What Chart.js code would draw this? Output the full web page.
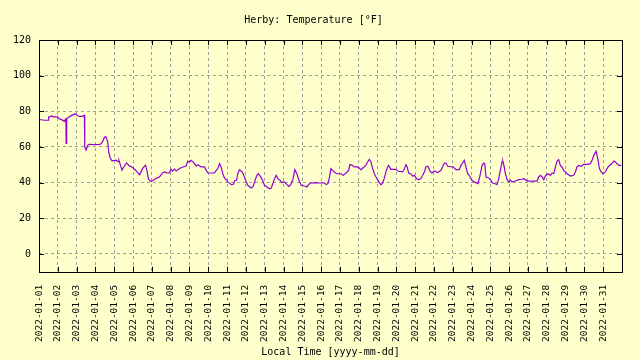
<!DOCTYPE html>
<html>
<head>
<meta charset="utf-8">
<title>Herby: Temperature</title>
<script src="https://cdn.jsdelivr.net/npm/chart.js@4/dist/chart.umd.min.js"></script>
<style>
	html, body { margin: 0; padding: 0; background: #ffffcc; }
	#chart { display: block; }
</style>
</head>
<body>
<canvas id="chart" width="640" height="360"></canvas>
<script>
const StartDate = Date.UTC(2022, 0, 1);

	// time in days since 2022-01-01 00:00 local, temperature in °F
const days = [
	0.00, 0.30, 0.50, 0.51, 0.70, 0.75, 0.99, 1.05, 1.22, 1.35, 1.40, 1.43, 1.44, 1.46, 1.48, 1.52,
	1.60, 1.79, 1.93, 2.05, 2.15, 2.30, 2.41, 2.43, 2.50, 2.59, 2.68, 2.90, 3.21, 3.30, 3.39, 3.48,
	3.56, 3.65, 3.71, 3.78, 3.88, 4.10, 4.20, 4.25, 4.31, 4.41, 4.55, 4.65, 4.80, 4.98, 5.16, 5.34,
	5.51, 5.66, 5.74, 5.82, 5.96, 6.05, 6.22, 6.40, 6.58, 6.70, 6.80, 6.93, 7.02, 7.10, 7.20, 7.29,
	7.50, 7.65, 7.82, 7.91, 8.00, 8.09, 8.20, 8.27, 8.35, 8.45, 8.62, 8.80, 8.89, 8.98, 9.33, 9.42,
	9.50, 9.60, 9.68, 9.77, 9.86, 10.04, 10.22, 10.35, 10.39, 10.50, 10.57, 10.66, 10.80, 10.89, 10.98, 11.10,
	11.28, 11.37, 11.46, 11.58, 11.67, 11.81, 11.90, 11.99, 12.11, 12.26, 12.35, 12.43, 12.52, 12.61, 12.70, 12.82,
	12.91, 13.05, 13.18, 13.28, 13.36, 13.50, 13.60, 13.71, 13.82, 13.94, 14.12, 14.25, 14.35, 14.47, 14.70, 14.91,
	15.18, 15.27, 15.36, 15.45, 15.52, 15.60, 15.70, 15.82, 16.05, 16.18, 16.32, 16.46, 16.53, 16.65, 16.76, 16.95,
	17.05, 17.12, 17.25, 17.38, 17.47, 17.56, 17.65, 17.74, 17.83, 17.92, 18.00, 18.09, 18.18, 18.26, 18.35, 18.45,
	18.53, 18.59, 18.71, 18.98, 19.07, 19.33, 19.42, 19.51, 19.58, 19.65, 19.76, 19.87, 19.96, 20.08, 20.18, 20.30,
	20.40, 20.49, 20.57, 20.68, 20.79, 20.89, 21.02, 21.20, 21.37, 21.46, 21.55, 21.64, 21.73, 22.03, 22.17, 22.35,
	22.44, 22.52, 22.61, 22.70, 22.79, 22.88, 22.97, 23.06, 23.23, 23.34, 23.41, 23.47, 23.56, 23.65, 23.70, 23.77,
	23.88, 24.00, 24.12, 24.25, 24.35, 24.44, 24.53, 24.62, 24.66, 24.73, 24.80, 24.89, 24.98, 25.07, 25.15, 25.33,
	25.50, 25.68, 25.77, 25.86, 25.95, 26.48, 26.57, 26.66, 26.75, 26.84, 26.93, 27.07, 27.20, 27.28, 27.37, 27.46,
	27.55, 27.63, 27.72, 27.81, 27.90, 27.99, 28.08, 28.26, 28.43, 28.52, 28.61, 28.70, 28.84, 28.96, 29.23, 29.32,
	29.41, 29.50, 29.62, 29.73, 29.80, 29.89, 29.98, 30.12, 30.20, 30.29, 30.47, 30.56, 30.65, 30.74, 30.83, 30.97
];
const tempF = [
	75.4, 75.0, 75.0, 76.9, 77.4, 76.9, 76.9, 76.0, 75.2, 74.4, 75.5, 74.0, 62.0, 68.0, 76.0, 76.3,
	76.9, 78.0, 78.7, 77.5, 77.2, 77.2, 77.8, 60.0, 58.3, 61.0, 61.5, 61.3, 61.5, 61.8, 63.3, 65.5,
	65.6, 63.0, 56.9, 54.0, 52.2, 52.6, 51.8, 52.5, 50.4, 47.0, 49.5, 51.1, 49.4, 48.5, 46.7, 44.4,
	48.0, 49.8, 46.7, 42.0, 40.6, 41.2, 42.4, 43.2, 45.6, 46.0, 45.4, 45.4, 47.6, 46.5, 47.6, 46.5,
	48.1, 48.8, 49.3, 52.1, 51.5, 52.5, 51.5, 50.7, 49.3, 50.0, 48.8, 48.8, 46.9, 45.4, 45.4, 46.9,
	47.8, 50.7, 48.8, 45.0, 42.6, 40.4, 38.9, 39.2, 40.9, 41.3, 45.0, 47.3, 46.0, 44.1, 41.3, 38.5,
	37.0, 37.6, 40.4, 44.1, 45.0, 42.8, 40.9, 38.5, 37.6, 36.6, 37.0, 39.4, 42.2, 44.1, 42.2, 41.3,
	40.0, 40.4, 38.9, 37.9, 38.5, 41.7, 47.3, 45.0, 41.3, 38.5, 38.1, 37.6, 39.1, 39.8, 40.0, 39.8,
	39.8, 38.9, 39.4, 43.2, 47.9, 47.0, 46.0, 45.0, 45.0, 44.1, 45.4, 46.9, 50.1, 49.7, 48.8, 48.8,
	47.9, 47.3, 48.5, 49.7, 51.6, 53.1, 51.6, 47.9, 45.0, 43.2, 41.7, 40.0, 38.9, 39.4, 42.2, 46.0,
	48.8, 49.7, 47.5, 47.5, 46.5, 46.0, 47.5, 50.1, 48.8, 45.4, 45.0, 43.6, 44.1, 42.2, 41.7, 42.2,
	44.1, 46.0, 48.8, 49.2, 46.5, 45.4, 46.5, 45.6, 46.9, 48.8, 51.0, 51.0, 49.2, 48.8, 47.3, 47.3,
	49.7, 51.0, 52.5, 48.8, 45.0, 44.1, 42.2, 40.9, 40.0, 39.4, 42.2, 45.0, 49.7, 51.0, 50.7, 43.2,
	42.8, 41.7, 39.8, 39.4, 38.9, 42.0, 46.9, 51.6, 52.1, 49.2, 45.0, 41.7, 40.4, 41.3, 40.4, 40.9,
	41.7, 41.9, 42.2, 41.7, 40.9, 40.9, 43.2, 44.1, 43.2, 41.7, 43.9, 45.0, 44.1, 45.4, 45.0, 48.8,
	52.1, 52.9, 49.7, 48.8, 46.9, 46.0, 45.0, 43.7, 44.1, 46.0, 48.8, 49.7, 49.2, 50.3, 50.3, 50.7,
	52.5, 55.3, 57.6, 52.5, 47.9, 46.0, 45.0, 46.0, 47.9, 49.2, 50.7, 52.1, 51.6, 50.7, 49.7, 49.7
];

	// one tick per day, label as yyyy-mm-dd
const xTickDays = [];
const xTickLabels = [];
for (let d = 0; d <= 30; d++)
{
	xTickDays.push(d);
	xTickLabels.push(new Date(StartDate + d * 86400000).toISOString().slice(0, 10));
}
const yTicks = [ 0, 20, 40, 60, 80, 100, 120 ];

	/// gnuplot-like box around the plot with inward tick marks
const frame = {
	id: "frame",
	afterDraw(chart)
	{
		const { ctx, chartArea: { top, bottom, left, right } } = chart;
		const x = chart.scales.x, y = chart.scales.y;
		const len = 5;
		ctx.save();
		ctx.strokeStyle = "#000";
		ctx.lineWidth = 1;
		ctx.beginPath();
		for (const d of xTickDays)
		{
			const px = Math.round(x.getPixelForValue(d)) + 0.5;
			ctx.moveTo(px, bottom);
			ctx.lineTo(px, bottom - len);
			ctx.moveTo(px, top);
			ctx.lineTo(px, top + len);
		}
		for (const v of yTicks)
		{
			const py = Math.round(y.getPixelForValue(v)) + 0.5;
			ctx.moveTo(left, py);
			ctx.lineTo(left + len, py);
			ctx.moveTo(right, py);
			ctx.lineTo(right - len, py);
		}
		ctx.stroke();
		ctx.strokeRect(Math.round(left) + 0.5, Math.round(top) + 0.5,
				Math.round(right - left), Math.round(bottom - top));
		ctx.restore();
	}
};

Chart.defaults.font.family = "'DejaVu Sans Mono', monospace";
Chart.defaults.font.size = 10;
Chart.defaults.color = "#000";

const points = days.map((d, i) => ({ x: d, y: tempF[i] }));

new Chart(document.getElementById("chart"), {
	type: "line",
	data: {
		datasets: [{
			label: "Temperature",
			data: points,
			borderColor: "#9400d3",
			borderWidth: 1.2,
			pointRadius: 0,
			tension: 0,
			fill: false,
		}]
	},
	options: {
		responsive: false,
		animation: false,
		events: [],
		layout: {
			padding: { left: 5, right: 18, top: 0, bottom: 0 }
		},
		plugins: {
			legend: { display: false },
			tooltip: { enabled: false },
			title: {
				display: true,
				text: "Herby: Temperature [°F]",
				font: { weight: "normal", size: 10 },
				padding: { top: 14, bottom: 14 },
			},
		},
		scales: {
			x: {
				type: "linear",
				min: 0,
				max: 31,
				afterBuildTicks: scale =>
				{
					scale.ticks = xTickDays.map(v => ({ value: v }));
				},
				ticks: {
					autoSkip: false,
					minRotation: 90,
					maxRotation: 90,
					padding: 13,
					font: { size: 9.5 },
					callback: (value) => xTickLabels[xTickDays.indexOf(value)] ?? "",
				},
				grid: {
					color: "#a0a0a0",
					drawTicks: false,
				},
				border: { display: false, dash: [3, 3] },
				title: {
					display: true,
					text: "Local Time [yyyy-mm-dd]",
					padding: { top: -9, bottom: 2 },
				},
			},
			y: {
				type: "linear",
				min: -10,
				max: 120,
				afterBuildTicks: scale =>
				{
					scale.ticks = yTicks.map(v => ({ value: v }));
				},
				ticks: {
					padding: 8,
				},
				grid: {
					color: "#a0a0a0",
					drawTicks: false,
				},
				border: { display: false, dash: [3, 3] },
			}
		}
	},
	plugins: [ frame ],
});
</script>
</body>
</html>
